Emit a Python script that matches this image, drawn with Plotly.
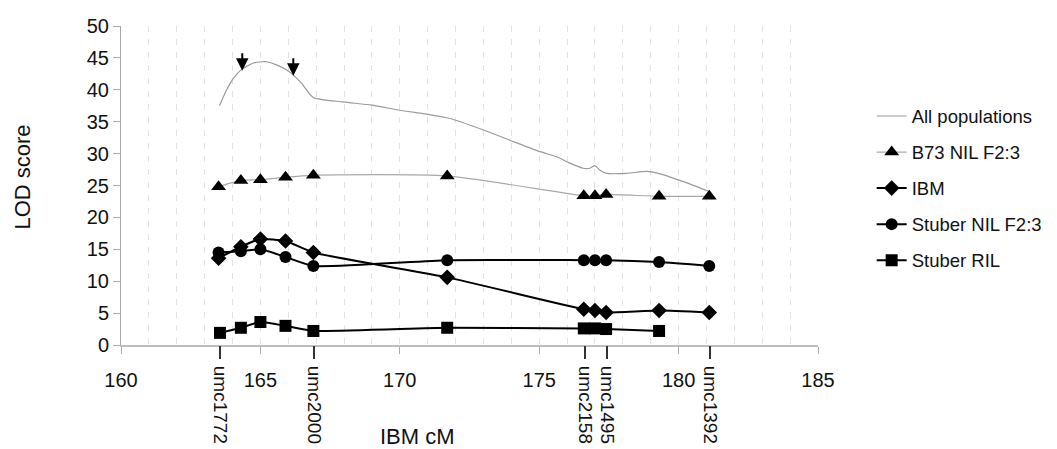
import plotly.graph_objects as go

# ---------------- data ----------------
marker_names = ["umc1772", "umc2000", "umc2158", "umc1495", "umc1392"]
marker_cm = [163.55, 166.92, 176.64, 177.43, 181.13]

x_ticks = [160, 165, 170, 175, 180, 185]

qtl_cm = [163.5, 164.3, 165.0, 165.9, 166.9, 171.7, 176.6, 177.0, 177.4, 179.3, 181.1]
b73_nil = [24.8, 25.8, 25.9, 26.3, 26.6, 26.5, 23.4, 23.4, 23.6, 23.3, 23.3]
ibm = [13.6, 15.4, 16.6, 16.3, 14.5, 10.6, 5.6, 5.4, 5.1, 5.4, 5.1]
stuber_nil = [14.5, 14.7, 15.0, 13.8, 12.4, 13.3, 13.3, 13.3, 13.3, 13.0, 12.4]

ril_cm = [163.55, 164.3, 165.0, 165.9, 166.9, 171.7, 176.6, 177.0, 177.4, 179.3]
stuber_ril = [1.9, 2.7, 3.6, 3.0, 2.2, 2.7, 2.6, 2.6, 2.5, 2.2]

all_cm = [163.53, 163.79, 164.03, 164.33, 164.75, 165.05, 165.23, 165.58, 165.94,
          166.18, 166.48, 166.90, 167.97, 168.99, 170.0, 170.96, 171.8, 173.0,
          173.95, 175.03, 175.63, 176.1, 176.58, 176.82, 177.0, 177.18, 177.42,
          178.14, 178.86, 179.27, 180.17, 181.13]
all_pop = [37.5, 40.0, 41.8, 43.2, 44.2, 44.4, 44.4, 43.9, 43.1,
           42.3, 41.0, 38.8, 38.1, 37.6, 36.8, 36.2, 35.5, 33.7,
           32.1, 30.3, 29.5, 28.5, 27.7, 27.7, 28.1, 27.4, 26.9,
           26.9, 27.2, 26.9, 25.6, 24.0]

arrow_cm = [164.35, 166.18]
arrow_lod = [43.0, 42.2]

FONT = "Liberation Sans, Arial, sans-serif"
TXT = "#111111"
GRID = "#e2e2e2"

fig = go.Figure()

fig.add_trace(go.Scatter(
    x=all_cm, y=all_pop, name="All populations", mode="lines",
    line=dict(color="#9a9a9a", width=1.2, shape="spline", smoothing=0.6),
    legendgroup="a"))
fig.add_trace(go.Scatter(
    x=qtl_cm, y=b73_nil, name="B73 NIL F2:3", mode="lines+markers",
    line=dict(color="#a8a8a8", width=1.2, shape="spline", smoothing=0.6),
    marker=dict(symbol="triangle-up", size=13, color="black"),
    legendgroup="b"))
fig.add_trace(go.Scatter(
    x=qtl_cm, y=ibm, name="IBM", mode="lines+markers",
    line=dict(color="black", width=2, shape="spline", smoothing=0.5),
    marker=dict(symbol="diamond", size=12, color="black"),
    legendgroup="c"))
fig.add_trace(go.Scatter(
    x=qtl_cm, y=stuber_nil, name="Stuber NIL F2:3", mode="lines+markers",
    line=dict(color="black", width=2, shape="spline", smoothing=0.5),
    marker=dict(symbol="circle", size=12, color="black"),
    legendgroup="d"))
fig.add_trace(go.Scatter(
    x=ril_cm, y=stuber_ril, name="Stuber RIL", mode="lines+markers",
    line=dict(color="black", width=2, shape="spline", smoothing=0.5),
    marker=dict(symbol="square", size=12, color="black"),
    legendgroup="e"))
# invisible trace to carry the marker-name axis
fig.add_trace(go.Scatter(
    x=marker_cm, y=[0] * len(marker_cm), xaxis="x2", mode="markers",
    marker=dict(opacity=0), showlegend=False, hoverinfo="skip"))

for xa, ya in zip(arrow_cm, arrow_lod):
    fig.add_annotation(x=xa, y=ya, ax=0, ay=-19, showarrow=True,
                       arrowhead=2, arrowsize=1.25, arrowwidth=2,
                       arrowcolor="black", standoff=0, text="")

fig.add_annotation(text="LOD score", xref="paper", yref="paper",
                   x=-0.141, y=0.527, xanchor="center", yanchor="middle",
                   textangle=-90, showarrow=False,
                   font=dict(size=22, color=TXT, family=FONT))
fig.add_annotation(text="IBM cM", xref="paper", yref="paper",
                   x=0.425, y=-0.288, xanchor="center", yanchor="middle",
                   showarrow=False,
                   font=dict(size=22, color=TXT, family=FONT))

# page has an 8px body margin: figure is 8px smaller and margins shifted
fig.update_layout(
    width=1049, height=441,
    margin=dict(l=113, r=239, t=18, b=104, autoexpand=False),
    plot_bgcolor="white", paper_bgcolor="white",
    font=dict(family=FONT, color=TXT),
    showlegend=True,
    legend=dict(x=1.077, y=0.776, xanchor="left", yanchor="top",
                font=dict(size=18.5, color=TXT, family=FONT),
                tracegroupgap=9, bgcolor="rgba(0,0,0,0)"),
    xaxis=dict(range=[160, 185], tickmode="array", tickvals=x_ticks,
               ticks="outside", ticklen=7, tickcolor="#aaaaaa",
               showline=True, linecolor="#bdbdbd", linewidth=2,
               zeroline=False, showgrid=True, gridcolor=GRID,
               griddash="6px,7px", gridwidth=1, automargin=False,
               minor=dict(tickmode="linear", tick0=160, dtick=1,
                          showgrid=True, gridcolor=GRID,
                          griddash="6px,7px", ticks=""),
               tickfont=dict(size=20, color=TXT, family=FONT),
               ticklabelstandoff=9),
    xaxis2=dict(range=[160, 185], overlaying="x", side="bottom",
                tickmode="array", tickvals=marker_cm, ticktext=marker_names,
                tickangle=90, ticks="outside", ticklen=13, tickwidth=2,
                tickcolor="#333333", showline=False, showgrid=False,
                zeroline=False, automargin=False, ticklabelstandoff=3,
                tickfont=dict(size=19, color=TXT, family=FONT)),
    yaxis=dict(range=[0, 50], dtick=5, tick0=0, ticks="outside", ticklen=7,
               tickcolor="#aaaaaa", showline=True, linecolor="#aaaaaa",
               linewidth=1, showgrid=False, zeroline=False, automargin=False,
               tickfont=dict(size=20, color=TXT, family=FONT)),
)

fig.write_html("out.html")
